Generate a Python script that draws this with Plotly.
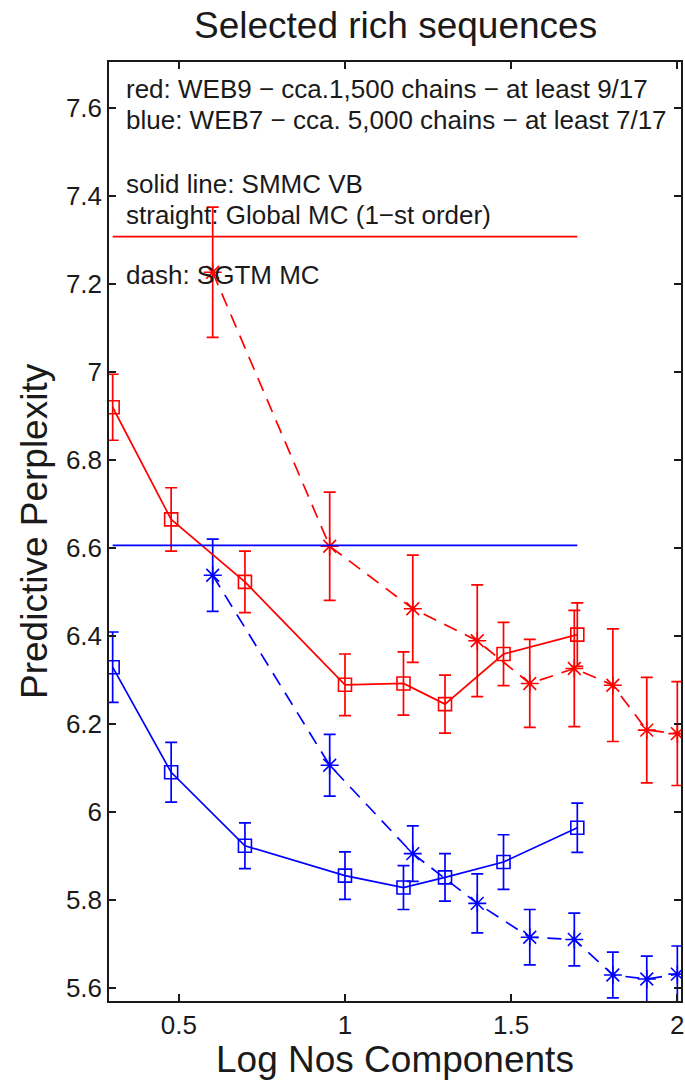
import plotly.graph_objects as go

# ---- data ----
x_vb = [0.301, 0.477, 0.699, 1.0, 1.176, 1.301, 1.477, 1.699]          # log10 of 2,3,5,10,15,20,30,50
x_sgtm = [0.602, 0.954, 1.204, 1.398, 1.556, 1.690, 1.806, 1.908, 2.0]  # log10 of 4,9,...,100

red_vb = [6.92, 6.665, 6.523, 6.289, 6.292, 6.245, 6.359, 6.403]
red_vb_err = [0.075, 0.072, 0.070, 0.070, 0.072, 0.066, 0.072, 0.072]
red_sgtm = [7.227, 6.604, 6.462, 6.389, 6.292, 6.326, 6.288, 6.186, 6.178]
red_sgtm_err = [0.148, 0.123, 0.122, 0.127, 0.100, 0.132, 0.128, 0.120, 0.118]

blue_vb = [6.329, 6.090, 5.923, 5.855, 5.828, 5.851, 5.886, 5.964]
blue_vb_err = [0.080, 0.068, 0.052, 0.054, 0.050, 0.054, 0.062, 0.056]
blue_sgtm = [6.538, 6.106, 5.905, 5.792, 5.715, 5.710, 5.629, 5.620, 5.631]
blue_sgtm_err = [0.082, 0.070, 0.063, 0.067, 0.063, 0.060, 0.052, 0.052, 0.064]

global_x = [0.301, 1.699]
red_global = [7.308, 7.308]
blue_global = [6.606, 6.606]

x_ticks = [0.5, 1, 1.5, 2]
x_ticktext = ["0.5", "1", "1.5", "2"]
y_ticks = [5.6, 5.8, 6.0, 6.2, 6.4, 6.6, 6.8, 7.0, 7.2, 7.4, 7.6]
y_ticktext = ["5.6", "5.8", "6", "6.2", "6.4", "6.6", "6.8", "7", "7.2", "7.4", "7.6"]

title_text = "Selected rich sequences"
x_title = "Log Nos Components"
y_title = "Predictive Perplexity"

notes = [
    "red: WEB9 \u2212 cca.1,500 chains \u2212 at least 9/17",
    "blue: WEB7 \u2212 cca. 5,000 chains \u2212 at least 7/17",
    "solid line: SMMC VB",
    "straight: Global MC (1\u2212st order)",
    "dash: SGTM MC",
]
note_px = [89, 120, 184, 215, 275]

RED = "#ff0000"
BLUE = "#0000ff"
INK = "#1a1a1a"
FONT = "Liberation Sans, Arial, Helvetica, sans-serif"

W, H = 685, 1082
L_PX, R_PX, T_PX, B_PX = 109, 681, 62, 1001

fig = go.Figure()


def add_series(x, y, err, color, symbol, dash, size):
    fig.add_trace(go.Scatter(
        x=x, y=y, mode="lines+markers",
        line=dict(color=color, width=1.7, dash=dash),
        marker=dict(symbol=symbol, size=size, color=color, line=dict(color=color, width=1.6)),
        error_y=dict(type="data", array=err, visible=True, color=color, thickness=1.7, width=6),
        showlegend=False, hoverinfo="skip",
    ))


add_series(x_sgtm, red_sgtm, red_sgtm_err, RED, "asterisk-open", "14px,9px", 15)
add_series(x_sgtm, blue_sgtm, blue_sgtm_err, BLUE, "asterisk-open", "14px,9px", 15)
add_series(x_vb, red_vb, red_vb_err, RED, "square-open", "solid", 13)
add_series(x_vb, blue_vb, blue_vb_err, BLUE, "square-open", "solid", 13)

fig.add_trace(go.Scatter(x=global_x, y=red_global, mode="lines",
                         line=dict(color=RED, width=1.7), showlegend=False, hoverinfo="skip"))
fig.add_trace(go.Scatter(x=global_x, y=blue_global, mode="lines",
                         line=dict(color=BLUE, width=1.7), showlegend=False, hoverinfo="skip"))


def px_to_paper_x(px):
    return (px - L_PX) / (R_PX - L_PX)


def px_to_paper_y(py):
    return (B_PX - py) / (B_PX - T_PX)


for txt, py in zip(notes, note_px):
    fig.add_annotation(
        text=txt, xref="paper", yref="paper",
        x=px_to_paper_x(124), y=px_to_paper_y(py),
        xanchor="left", yanchor="middle", showarrow=False,
        font=dict(family=FONT, size=26, color=INK),
    )

# title and axis titles placed as text boxes
fig.add_annotation(text=title_text, xref="paper", yref="paper",
                   x=0.5, y=px_to_paper_y(26), xanchor="center", yanchor="middle",
                   showarrow=False, font=dict(family=FONT, size=37, color=INK))
fig.add_annotation(text=x_title, xref="paper", yref="paper",
                   x=0.5, y=px_to_paper_y(1059), xanchor="center", yanchor="middle",
                   showarrow=False, font=dict(family=FONT, size=37, color=INK))
fig.add_annotation(text=y_title, xref="paper", yref="paper",
                   x=px_to_paper_x(34), y=px_to_paper_y(531), xanchor="center", yanchor="middle",
                   textangle=-90, showarrow=False, font=dict(family=FONT, size=37, color=INK))

axis_common = dict(
    showline=True, linecolor=INK, linewidth=1.5, mirror="ticks",
    ticks="inside", ticklen=7, tickwidth=1.5, tickcolor=INK,
    showgrid=False, zeroline=False, automargin=False, ticklabeloverflow="allow",
    tickfont=dict(family=FONT, size=26, color=INK),
)

fig.update_layout(
    width=W, height=H,
    paper_bgcolor="white", plot_bgcolor="white",
    margin=dict(l=L_PX, r=W - R_PX, t=T_PX, b=H - B_PX, pad=0),
    xaxis=dict(range=[0.29, 2.011], tickvals=x_ticks, ticktext=x_ticktext, **axis_common),
    yaxis=dict(range=[5.570, 7.705], tickvals=y_ticks, ticktext=y_ticktext, **axis_common),
)

# remove the browser's default 8px page margin so the figure sits at the window origin
fig.write_html("out.html",
               config={"displayModeBar": False},
               post_script="document.body.style.margin='0';document.body.style.overflow='hidden';")
